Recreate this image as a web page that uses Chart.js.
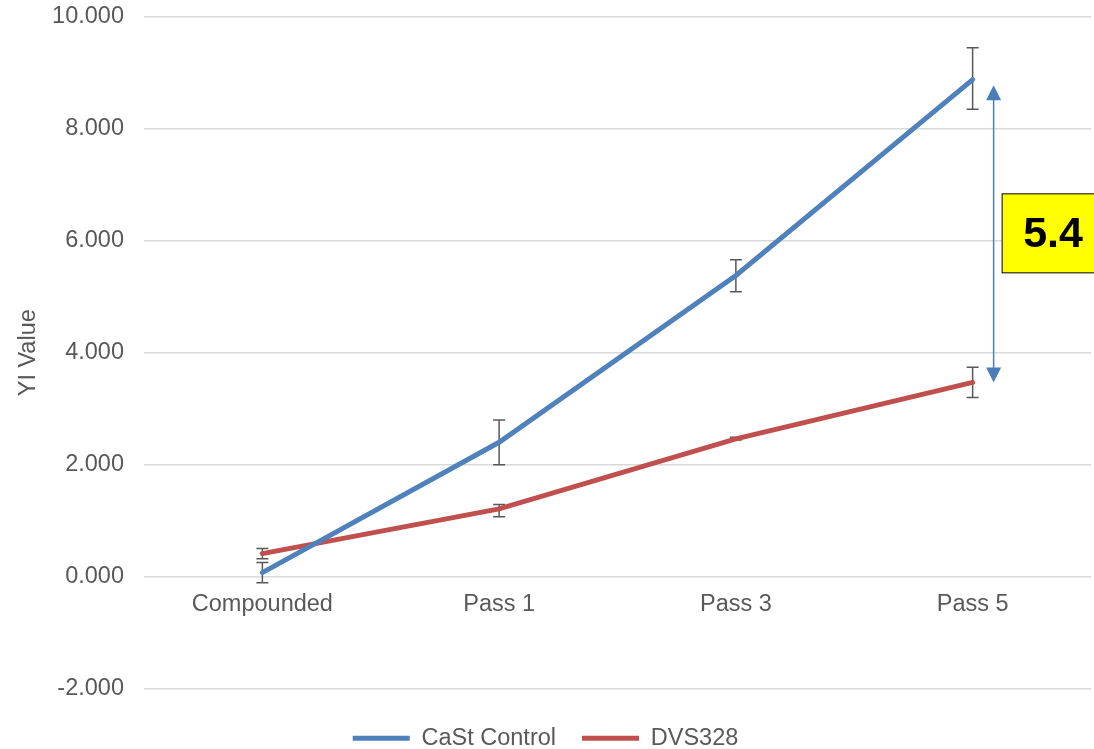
<!DOCTYPE html>
<html>
<head>
<meta charset="utf-8">
<script src="https://cdn.jsdelivr.net/npm/chart.js@4"></script>
<style>
  body { margin: 0; background: #fff; }
  canvas { display: block; }
</style>
</head>
<body>
<canvas id="yiChart" width="1094" height="749"></canvas>
<script>
// data
const categories = ['Compounded', 'Pass 1', 'Pass 3', 'Pass 5'];
const castValues = [0.07, 2.40, 5.38, 8.88];
const castLow = [-0.11, 2.00, 5.09, 8.35];
const castHigh = [0.25, 2.80, 5.66, 9.45];
const dvsValues = [0.41, 1.21, 2.46, 3.47];
const dvsLow = [0.32, 1.07, 2.44, 3.20];
const dvsHigh = [0.50, 1.29, 2.49, 3.74];
// difference marker at Pass 5
const gapTop = 8.78;
const gapBottom = 3.47;
const gapLabel = '5.4';

const textGrey = '#595959';
const fontFamily = '"Liberation Sans", Arial, sans-serif';

// Error bars, drawn under the lines
const errorBars = {
    id: 'errorBars',
    beforeDatasetsDraw(chart) {
        const ctx = chart.ctx;
        const x = chart.scales.x;
        const y = chart.scales.y;
        const sets = [[castLow, castHigh], [dvsLow, dvsHigh]];
        ctx.save();
        ctx.strokeStyle = textGrey;
        ctx.lineWidth = 1.5;
        sets.forEach(function (s) {
            categories.forEach(function (c, i) {
                const px = x.getPixelForValue(i);
                const lo = y.getPixelForValue(s[0][i]);
                const hi = y.getPixelForValue(s[1][i]);
                ctx.beginPath();
                ctx.moveTo(px, lo); ctx.lineTo(px, hi);
                ctx.moveTo(px - 6, lo); ctx.lineTo(px + 6, lo);
                ctx.moveTo(px - 6, hi); ctx.lineTo(px + 6, hi);
                ctx.stroke();
            });
        });
        ctx.restore();
    }
};

// Double arrow + yellow label box
const gapMarker = {
    id: 'gapMarker',
    afterDatasetsDraw(chart) {
        const ctx = chart.ctx;
        const y = chart.scales.y;
        const ax = chart.scales.x.getPixelForValue(categories.length - 1) + 21;
        const top = y.getPixelForValue(gapTop);
        const bot = y.getPixelForValue(gapBottom);
        ctx.save();
        ctx.strokeStyle = '#4a7ebb';
        ctx.fillStyle = '#4a7ebb';
        ctx.lineWidth = 1.5;
        ctx.beginPath();
        ctx.moveTo(ax, top + 12); ctx.lineTo(ax, bot - 12);
        ctx.stroke();
        ctx.beginPath();
        ctx.moveTo(ax, top); ctx.lineTo(ax - 7.5, top + 15); ctx.lineTo(ax + 7.5, top + 15);
        ctx.closePath(); ctx.fill();
        ctx.beginPath();
        ctx.moveTo(ax, bot); ctx.lineTo(ax - 7.5, bot - 15); ctx.lineTo(ax + 7.5, bot - 15);
        ctx.closePath(); ctx.fill();

        const mid = (top + bot) / 2;
        const bx = ax + 8.5;
        ctx.fillStyle = '#ffff00';
        ctx.fillRect(bx, mid - 40, 120, 79);
        ctx.strokeStyle = '#000';
        ctx.lineWidth = 1;
        ctx.strokeRect(bx, mid - 40, 120, 79);
        ctx.fillStyle = '#000';
        ctx.font = 'bold 43px ' + fontFamily;
        ctx.textBaseline = 'middle';
        ctx.fillText(gapLabel, bx + 21, mid + 1);
        ctx.restore();
    }
};

const ctx = document.getElementById('yiChart').getContext('2d');
new Chart(ctx, {
    type: 'line',
    data: {
        labels: categories,
        datasets: [{
            label: 'CaSt Control',
            data: castValues,
            borderColor: '#4f81bd',
            backgroundColor: '#4f81bd',
            borderWidth: 5,
            borderCapStyle: 'round',
            pointRadius: 0,
            tension: 0
        }, {
            label: 'DVS328',
            data: dvsValues,
            borderColor: '#c0504d',
            backgroundColor: '#c0504d',
            borderWidth: 5,
            borderCapStyle: 'round',
            pointRadius: 0,
            tension: 0
        }]
    },
    options: {
        responsive: false,
        animation: false,
        layout: {
            padding: { top: 17, right: 3, bottom: -11, left: 0 }
        },
        scales: {
            x: {
                position: { y: 0 },
                offset: true,
                grid: { display: false, drawTicks: false },
                border: { display: false },
                ticks: {
                    color: textGrey,
                    padding: 14,
                    maxRotation: 0,
                    font: { family: fontFamily, size: 23.5 }
                }
            },
            y: {
                min: -2,
                max: 10,
                afterFit: function (scale) {
                    scale.width = 144;
                    scale.paddingTop = 0;
                },
                grid: { color: '#d9d9d9', lineWidth: 1.5, drawTicks: false },
                border: { display: false },
                ticks: {
                    stepSize: 2,
                    color: textGrey,
                    padding: 20,
                    font: { family: fontFamily, size: 23.5 },
                    callback: function (v) { return v.toFixed(3); }
                },
                title: {
                    display: true,
                    text: 'YI Value',
                    color: textGrey,
                    padding: { top: 14, bottom: 0 },
                    font: { family: fontFamily, size: 23.5 }
                }
            }
        },
        plugins: {
            legend: {
                position: 'bottom',
                title: { display: true, text: ' ', padding: 0, font: { size: 10 } },
                labels: {
                    usePointStyle: true,
                    pointStyle: 'line',
                    pointStyleWidth: 57,
                    padding: 26,
                    color: textGrey,
                    font: { family: fontFamily, size: 23.5 }
                }
            },
            tooltip: { enabled: false }
        }
    },
    plugins: [errorBars, gapMarker]
});
</script>
</body>
</html>
